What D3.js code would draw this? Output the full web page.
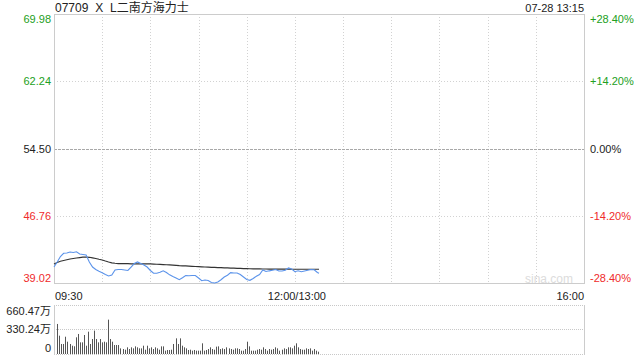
<!DOCTYPE html>
<html>
<head>
<meta charset="utf-8">
<script src="https://cdn.jsdelivr.net/npm/d3@7"></script>
<style>
  html, body { margin: 0; padding: 0; background: #fff; }
  svg { display: block; font-family: "Liberation Sans", Arial, "Noto Sans CJK SC", sans-serif; }
</style>
</head>
<body>
<div id="chart"></div>
<script>
// stock header
const titleParts = ["07709 ", "X ", "L二南方海力士"];
const stamp = "07-28 13:15";

// price axis ticks (left) and change ticks (right)
const priceTicks = [69.98, 62.24, 54.50, 46.76, 39.02];
const pctTicks = ["+28.40%", "+14.20%", "0.00%", "-14.20%", "-28.40%"];
const prevClose = 54.50;

// volume axis (万)
const volTicks = [660.47, 330.24, 0];
const volLabels = ["660.47万", "330.24万", "0"];

// price every 2 minutes from 09:30 (12:00 joined to 13:00), last at 13:15
const price = [
  40.86, 41.44, 42.07, 42.44, 42.47, 42.59, 42.53, 42.62, 42.36, 42.30,
  42.24, 41.44, 40.86, 40.57, 40.38, 40.21, 40.00, 39.83, 39.94, 40.52,
  40.57, 40.57, 40.52, 40.46, 40.86, 41.26, 41.44, 41.26, 41.09, 40.86,
  40.46, 40.14, 40.14, 40.25, 40.42, 40.22, 39.96, 39.77, 39.60, 39.40,
  39.63, 39.88, 39.85, 39.88, 39.88, 39.60, 39.28, 39.37, 39.30, 39.08,
  39.02, 39.14, 39.39, 39.71, 39.91, 40.21, 40.17, 40.17, 40.00, 39.71,
  39.42, 39.33, 39.54, 39.80, 40.00, 40.52, 40.34, 40.42, 40.49, 40.57,
  40.40, 40.40, 40.49, 40.75, 40.63, 40.32, 40.42, 40.32, 40.40, 40.48,
  40.58, 40.54, 40.23, 40.14
];

// average price, same times
const avgPrice = [
  41.21, 41.38, 41.52, 41.61, 41.70, 41.78, 41.84, 41.90, 41.95, 41.99,
  42.01, 41.98, 41.92, 41.84, 41.75, 41.67, 41.55, 41.44, 41.34, 41.29,
  41.26, 41.25, 41.24, 41.24, 41.23, 41.23, 41.22, 41.22, 41.21, 41.21,
  41.21, 41.20, 41.18, 41.16, 41.14, 41.12, 41.10, 41.07, 41.04, 41.01,
  40.99, 40.98, 40.96, 40.94, 40.92, 40.90, 40.88, 40.86, 40.84, 40.82,
  40.81, 40.80, 40.79, 40.77, 40.76, 40.74, 40.73, 40.71, 40.70, 40.68,
  40.67, 40.66, 40.65, 40.64, 40.64, 40.63, 40.63, 40.62, 40.62, 40.62,
  40.61, 40.61, 40.61, 40.61, 40.60, 40.60, 40.60, 40.60, 40.60, 40.60,
  40.60, 40.60, 40.60, 40.60
];

// volume bars (万)
const volume = [
  405, 247, 135, 135, 233, 166, 135, 112, 104, 225,
  270, 157, 157, 256, 112, 301, 135, 202, 315, 202,
  157, 202, 157, 166, 157, 463, 202, 166, 121, 121,
  121, 76, 67, 58, 90, 67, 90, 76, 103, 90,
  76, 76, 112, 58, 112, 76, 90, 67, 90, 76,
  58, 103, 103, 45, 54, 54, 58, 135, 211, 135,
  211, 112, 90, 76, 54, 58, 45, 54, 45, 45,
  45, 144, 45, 54, 67, 90, 67, 58, 99, 103,
  67, 76, 67, 90, 76, 67, 58, 76, 76, 67,
  45, 45, 67, 166, 103, 45, 45, 45, 58, 67,
  58, 90, 67, 45, 67, 58, 67, 90, 76, 45,
  58, 76, 67, 90, 90, 76, 112, 144, 90, 67,
  58, 58, 76, 67, 76, 45, 67, 45, 31
];

const W = 640, H = 360;
const pLeft = 54, pRight = 584, pTop = 14, pBottom = 283;
const vTop = 305, vBottom = 354;
const green = "#22a022", red = "#ef2b2b", grid = "#d2d2d2";

const svg = d3.select("#chart").append("svg")
  .attr("width", W).attr("height", H)
  .attr("viewBox", [0, 0, W, H]);

// minutes from 09:30, lunch removed (12:00 == 13:00), close 16:00 = 330
const x = d3.scaleLinear().domain([0, 330]).range([pLeft, pRight]);
const y = d3.scaleLinear().domain([39.02, 69.98]).range([pBottom, pTop]);
const yv = d3.scaleLinear().domain([0, 660.47]).range([vBottom, vTop]);
const barX = d3.scaleLinear().domain([0, volume.length - 1]).range([x(2.05), x(164.5)]);

// header
svg.append("text").attr("x", pLeft + 1).attr("y", 12)
  .attr("font-size", 12).attr("fill", "#222")
  .selectAll("tspan").data(titleParts).join("tspan")
  .attr("dx", (d, i) => i ? 3.5 : 0)
  .text(d => d);
svg.append("text").attr("x", pRight).attr("y", 12).attr("text-anchor", "end")
  .attr("font-size", 11).attr("fill", "#222").text(stamp);

// vertical grid every 30 min
const halfHours = d3.range(30, 330, 30);
svg.append("g").selectAll("line").data(halfHours).join("line")
  .attr("x1", d => Math.round(x(d)) + 0.5).attr("x2", d => Math.round(x(d)) + 0.5)
  .attr("y1", pTop).attr("y2", pBottom)
  .attr("stroke", grid).attr("stroke-dasharray", "1,2");

// horizontal grid
svg.append("g").selectAll("line").data(priceTicks.slice(1, -1)).join("line")
  .attr("x1", pLeft).attr("x2", pRight)
  .attr("y1", d => Math.round(y(d)) + 0.5).attr("y2", d => Math.round(y(d)) + 0.5)
  .attr("stroke", d => d === prevClose ? "#a8a8a8" : grid)
  .attr("stroke-dasharray", d => d === prevClose ? "3,1" : "1,2");

// border of price panel
svg.append("rect").attr("x", pLeft + 0.5).attr("y", pTop + 0.5)
  .attr("width", pRight - pLeft).attr("height", pBottom - pTop)
  .attr("fill", "none").attr("stroke", "#cccccc");

// watermark
svg.append("text").attr("x", 573).attr("y", 283).attr("text-anchor", "end")
  .attr("font-size", 12).attr("fill", "#dcdcdc").text("sina.com");

// price labels
const labelColor = v => v > prevClose ? green : v < prevClose ? red : "#222";
const labelY = (v, i) => {
  const c = y(v) + (i === 0 ? 5 : i === priceTicks.length - 1 ? -5.5 : 0);
  return c + 4;
};
svg.append("g").selectAll("text").data(priceTicks).join("text")
  .attr("x", 51).attr("y", labelY).attr("text-anchor", "end")
  .attr("font-size", 11).attr("fill", labelColor)
  .text(d => d.toFixed(2));
svg.append("g").selectAll("text").data(priceTicks).join("text")
  .attr("x", 590).attr("y", labelY)
  .attr("font-size", 11).attr("fill", labelColor)
  .text((d, i) => pctTicks[i]);

// time labels
svg.append("text").attr("x", x(0) + 1).attr("y", 300).attr("font-size", 11).attr("fill", "#222").text("09:30");
svg.append("text").attr("x", x(150) + 2).attr("y", 300).attr("text-anchor", "middle").attr("font-size", 11).attr("fill", "#222").text("12:00/13:00");
svg.append("text").attr("x", x(330)).attr("y", 300).attr("text-anchor", "end").attr("font-size", 11).attr("fill", "#222").text("16:00");

// lines
const t = i => Math.min(i * 2, 165);
const minuteLine = d3.line().x((d, i) => x(t(i))).y(d => y(d));
svg.append("path").datum(avgPrice).attr("d", minuteLine)
  .attr("fill", "none").attr("stroke", "#333").attr("stroke-width", 1.2);
svg.append("path").datum(price).attr("d", minuteLine)
  .attr("fill", "none").attr("stroke", "#5b93ea").attr("stroke-width", 1.1);

// volume panel
svg.append("g").selectAll("line").data(volTicks).join("line")
  .attr("x1", pLeft).attr("x2", pRight)
  .attr("y1", d => Math.round(yv(d)) + 0.5).attr("y2", d => Math.round(yv(d)) + 0.5)
  .attr("stroke", "#c8c8c8").attr("stroke-dasharray", "1,1");
[pLeft, pRight].forEach(px => {
  svg.append("line").attr("x1", px + 0.5).attr("x2", px + 0.5)
    .attr("y1", vTop).attr("y2", vBottom + 1).attr("stroke", "#cccccc");
});
svg.append("g").selectAll("rect").data(volume).join("rect")
  .attr("x", (d, i) => Math.round(barX(i)))
  .attr("y", d => yv(d))
  .attr("width", 1)
  .attr("height", d => vBottom - yv(d))
  .attr("fill", "#555");
svg.append("g").selectAll("text").data(volTicks).join("text")
  .attr("x", 51).attr("text-anchor", "end")
  .attr("y", (d, i) => yv(d) + (i === 0 ? 6 : i === volTicks.length - 1 ? -6 : 0) + 4)
  .attr("font-size", 11).attr("fill", "#222")
  .text((d, i) => volLabels[i]);
</script>
</body>
</html>
